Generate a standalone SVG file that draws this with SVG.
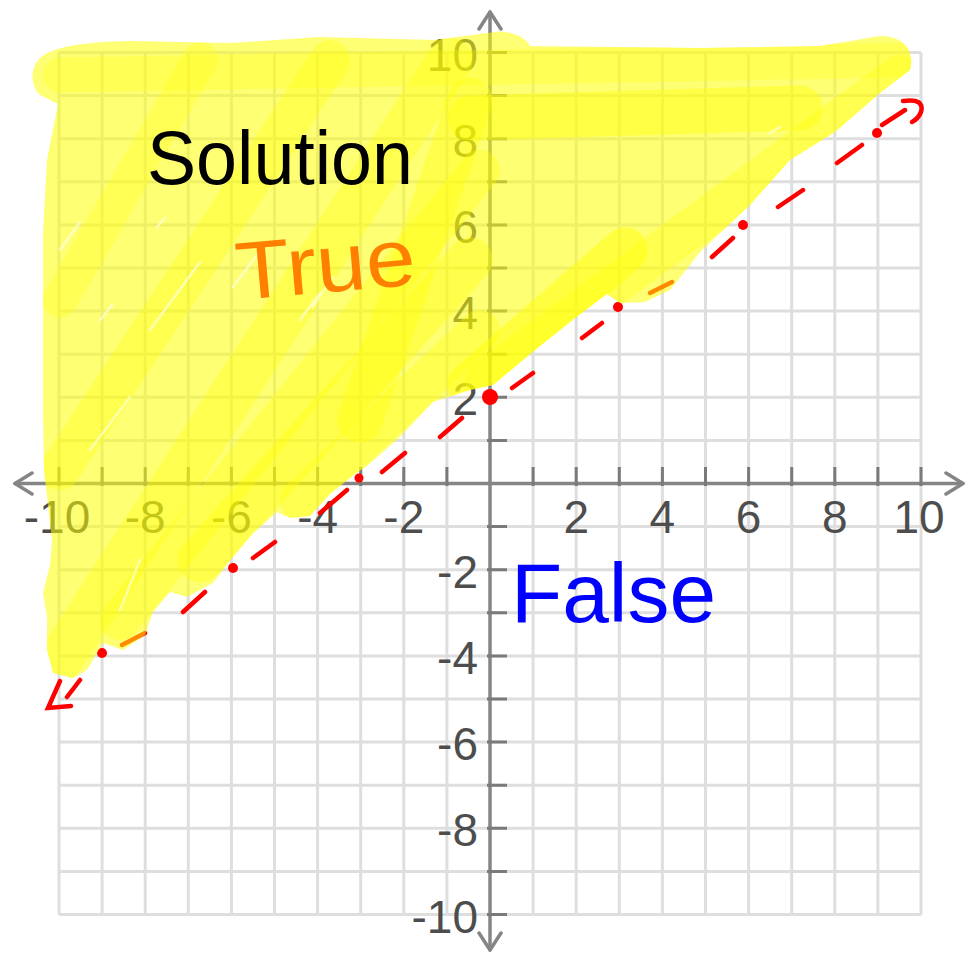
<svg xmlns="http://www.w3.org/2000/svg" xmlns:xlink="http://www.w3.org/1999/xlink" width="972" height="954" viewBox="0 0 972 954">
<style>
.grid{stroke:#dedede;stroke-width:3;fill:none}
.axis{stroke:#858585;stroke-width:3.5;fill:none;stroke-linecap:round;stroke-linejoin:round}
.tick{stroke:#7a7a7a;stroke-width:3;fill:none}
.lbl{font-family:"Liberation Sans",Arial,sans-serif;font-size:46px;fill:#4d4d4d}
.xl{text-anchor:middle}
.yl{text-anchor:end}
.hl{fill:#ffff00;fill-opacity:0.55}
.hs{stroke:#ffff00;stroke-linecap:round;fill:none}
.ws{stroke:#ffffff;stroke-opacity:0.55;stroke-width:2.5;stroke-linecap:round;fill:none}
.red{stroke:#ff0000;stroke-width:4.5;stroke-linecap:round;fill:none}
.dot{fill:#ff0000}
.hand{font-family:"Liberation Sans","DejaVu Sans",sans-serif}
</style>
<defs>
<path id="hlpath" d="M 40,58 C 55,45 90,42 130,41 L 230,43 L 320,37 L 435,40 L 495,32 C 515,30 528,40 530,46 L 700,48 L 820,46 L 880,36 C 905,36 915,52 910,70 L 880,93 L 835,132 L 790,160 L 750,205 L 700,252 L 690,265 L 670,290 L 645,302 L 620,303 L 607,294 L 575,318 L 535,350 L 493,385 L 470,390 L 433,402 L 400,437 L 367,466 L 355,474 L 330,494 L 310,516 L 290,518 L 277,512 L 253,533 L 233,557 L 213,583 L 187,597 L 170,592 L 153,612 L 145,635 L 123,650 L 103,643 L 87,670 L 73,678 L 53,673 L 47,650 L 47,617 L 43,593 L 50,565 L 52,540 L 44,470 L 43,417 L 43,233 L 47,160 L 58,104 L 40,95 C 30,85 30,68 40,58 Z"/>
<clipPath id="hlclip"><use xlink:href="#hlpath"/></clipPath>
</defs>
<rect x="0" y="0" width="972" height="954" fill="#ffffff"/>

<g id="grid">
<path class="grid" d="M59,52.5V914.5 M102.1,52.5V914.5 M145.2,52.5V914.5 M188.3,52.5V914.5 M231.4,52.5V914.5 M274.5,52.5V914.5 M317.6,52.5V914.5 M360.7,52.5V914.5 M403.8,52.5V914.5 M446.9,52.5V914.5 M533.1,52.5V914.5 M576.2,52.5V914.5 M619.3,52.5V914.5 M662.4,52.5V914.5 M705.5,52.5V914.5 M748.6,52.5V914.5 M791.7,52.5V914.5 M834.8,52.5V914.5 M877.9,52.5V914.5 M921,52.5V914.5 M59,52.5H921 M59,95.6H921 M59,138.7H921 M59,181.8H921 M59,224.9H921 M59,268H921 M59,311.1H921 M59,354.2H921 M59,397.3H921 M59,440.4H921 M59,526.6H921 M59,569.7H921 M59,612.8H921 M59,655.9H921 M59,699H921 M59,742.1H921 M59,785.2H921 M59,828.3H921 M59,871.4H921 M59,914.5H921"/>
</g>

<g id="axes">
<path class="axis" d="M15,483.5H963 M490,12V950"/>
<path class="axis" d="M32,473 L15,483.5 L32,494 M946,473 L963,483.5 L946,494 M479,29 L490,12 L501,29 M479,933 L490,950 L501,933"/>
<path class="tick" d="M59,467V486 M102.1,467V486 M145.2,467V486 M188.3,467V486 M231.4,467V486 M274.5,467V486 M317.6,467V486 M360.7,467V486 M403.8,467V486 M446.9,467V486 M533.1,467V486 M576.2,467V486 M619.3,467V486 M662.4,467V486 M705.5,467V486 M748.6,467V486 M791.7,467V486 M834.8,467V486 M877.9,467V486 M921,467V486 M487,52.5H507 M487,95.6H507 M487,138.7H507 M487,181.8H507 M487,224.9H507 M487,268H507 M487,311.1H507 M487,354.2H507 M487,397.3H507 M487,440.4H507 M487,526.6H507 M487,569.7H507 M487,612.8H507 M487,655.9H507 M487,699H507 M487,742.1H507 M487,785.2H507 M487,828.3H507 M487,871.4H507 M487,914.5H507"/>
</g>

<g id="labels" class="lbl">
<text class="xl" x="57" y="533">-10</text>
<text class="xl" x="145.2" y="533">-8</text>
<text class="xl" x="231.4" y="533">-6</text>
<text class="xl" x="317.6" y="533">-4</text>
<text class="xl" x="403.8" y="533">-2</text>
<text class="xl" x="576.2" y="533">2</text>
<text class="xl" x="662.4" y="533">4</text>
<text class="xl" x="748.6" y="533">6</text>
<text class="xl" x="834.8" y="533">8</text>
<text class="xl" x="919" y="533">10</text>
<text class="yl" x="478" y="70.5">10</text>
<text class="yl" x="478" y="156.7">8</text>
<text class="yl" x="478" y="242.9">6</text>
<text class="yl" x="478" y="329.1">4</text>
<text class="yl" x="478" y="415.3">2</text>
<text class="yl" x="478" y="587.7">-2</text>
<text class="yl" x="478" y="673.9">-4</text>
<text class="yl" x="478" y="760.1">-6</text>
<text class="yl" x="478" y="846.3">-8</text>
<text class="yl" x="478" y="932.5">-10</text>
</g>

<g id="boundary-line">
<path class="red" d="M512,388 L533,373 M582,338 L602,323 M650,293 L672,282 M712,257 L733,238 M778,207 L803,190 M837,163 L862,145 M882,125 L905,110 M462,418 L440,437 M405,453 L382,472 M347,490 L320,513 M275,542 L253,558 M205,592 L183,612 M145,633 L122,645 M80,680 L67,697"/>
<path class="red" d="M903,101 Q925,98 921,112 Q918,119 912,122"/>
<path class="red" d="M60,681 L48,708 L71,706"/>
<circle class="dot" cx="490" cy="397" r="8"/>
<circle class="dot" cx="618" cy="307" r="5"/>
<circle class="dot" cx="743" cy="225" r="5"/>
<circle class="dot" cx="877" cy="133" r="5"/>
<circle class="dot" cx="359" cy="478" r="4.5"/>
<circle class="dot" cx="233" cy="568" r="5"/>
<circle class="dot" cx="102" cy="653" r="5"/>
</g>

<g id="shading">
<use xlink:href="#hlpath" class="hl"/>
<g clip-path="url(#hlclip)">
<path class="hs" stroke-width="35" stroke-opacity="0.25" d="M60,75 L900,60"/>
<path class="hs" stroke-width="45" stroke-opacity="0.4" d="M470,118 L800,108"/>
<path class="hs" stroke-width="40" stroke-opacity="0.3" d="M485,380 L900,75"/>
<path class="hs" stroke-width="45" stroke-opacity="0.45" d="M470,385 L625,250"/>
<path class="hs" stroke-width="45" stroke-opacity="0.3" d="M60,660 L450,60"/>
<path class="hs" stroke-width="40" stroke-opacity="0.3" d="M120,620 L480,170"/>
<path class="hs" stroke-width="40" stroke-opacity="0.3" d="M60,470 L330,60"/>
<path class="hs" stroke-width="45" stroke-opacity="0.35" d="M200,560 L470,260"/>
<path class="hs" stroke-width="35" stroke-opacity="0.25" d="M60,300 L200,60"/>
<path class="hs" stroke-width="40" stroke-opacity="0.3" d="M300,500 L480,330"/>
<path class="hs" stroke-width="45" stroke-opacity="0.35" d="M360,420 L470,100"/>
<path class="ws" d="M233,287 L263,247 M157,227 L165,218 M100,320 L112,305 M313,307 L333,277 M770,133 L780,127 M120,610 L140,560 M150,330 L200,262 M90,450 L130,397 M300,320 L320,293 M60,250 L80,222"/>
</g>
</g>

<g id="notes" class="hand">
<text x="147" y="184" font-size="76" textLength="266" lengthAdjust="spacingAndGlyphs" fill="#000000">Solution</text>
<text x="238" y="300" font-size="82" textLength="180" lengthAdjust="spacingAndGlyphs" fill="#ff8000" transform="rotate(-5 238 300)">True</text>
<text x="511" y="622" font-size="84" textLength="205" lengthAdjust="spacingAndGlyphs" fill="#0000ff">False</text>
</g>
</svg>
